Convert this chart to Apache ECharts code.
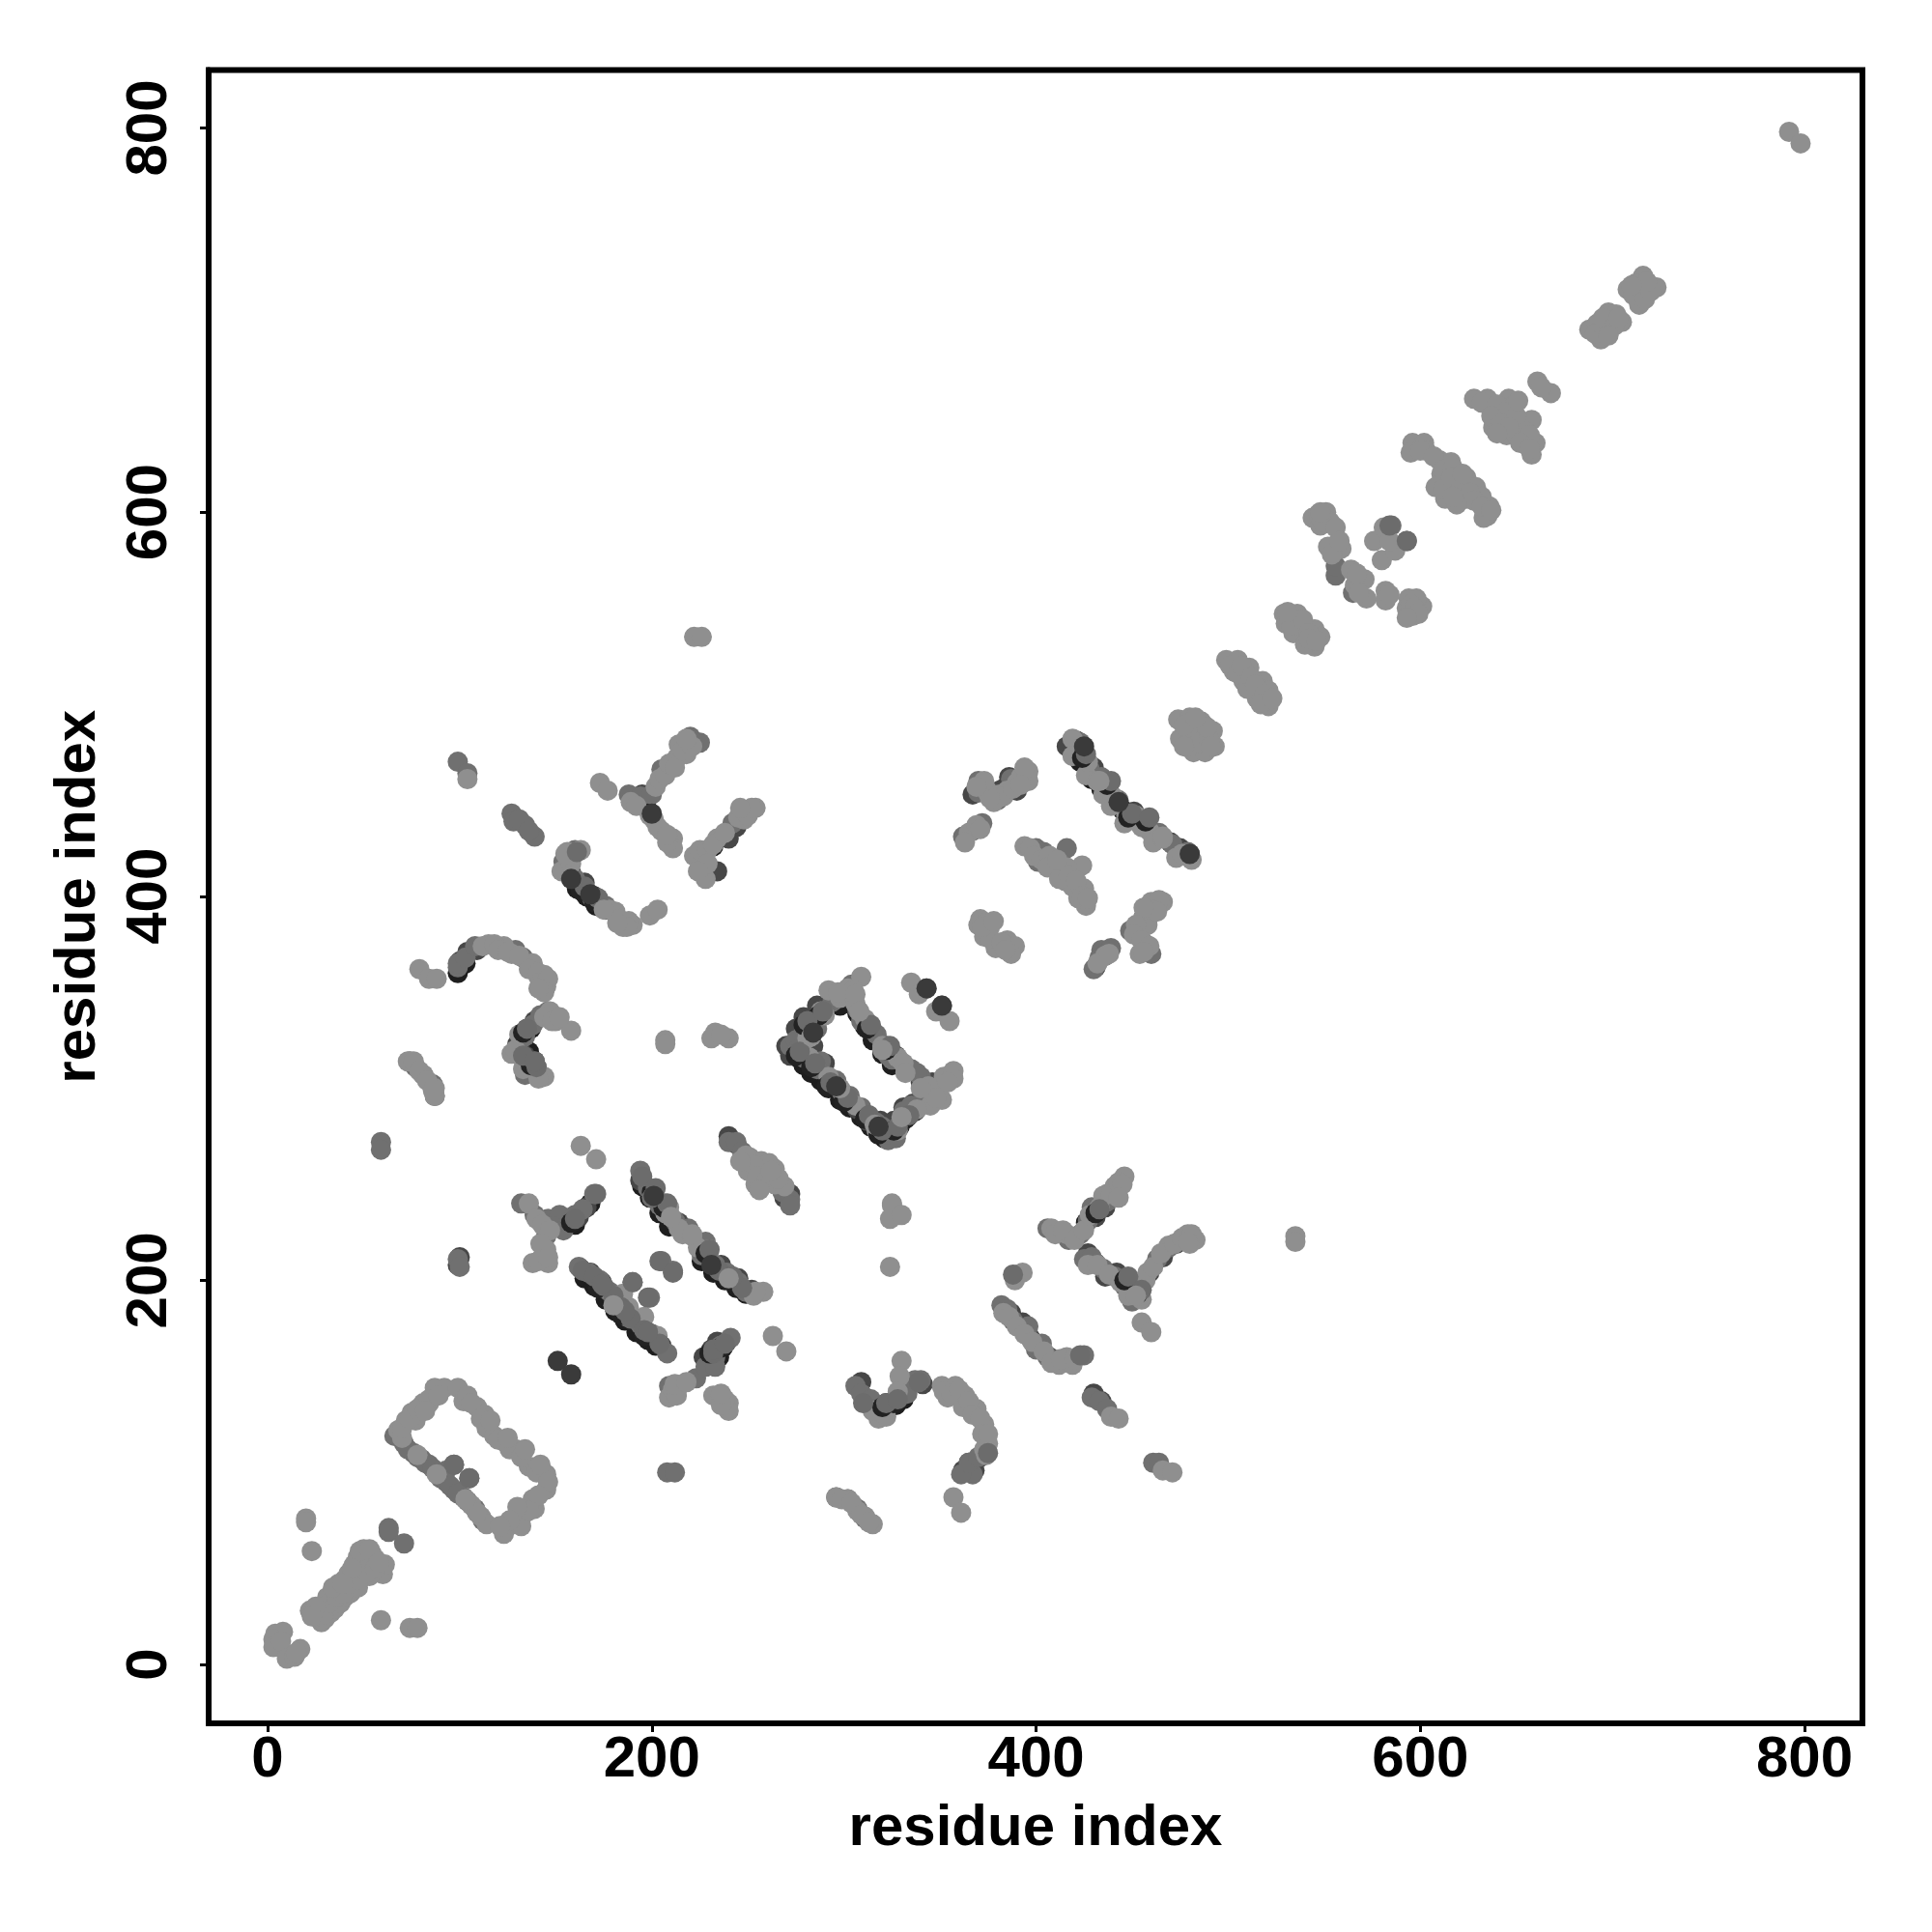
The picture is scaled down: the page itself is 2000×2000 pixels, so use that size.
<!DOCTYPE html>
<html><head><meta charset="utf-8">
<style>html,body{margin:0;padding:0;background:#fff}#c{width:2000px;height:2000px}</style>
<script src="https://cdn.jsdelivr.net/npm/echarts@6/dist/echarts.min.js"></script></head>
<body><div id="c"></div>
<script>
const tickValues = [0, 200, 400, 600, 800];
const axisTitle = "residue index";

const blackContacts = [
[273,319],[276,316],[279,312],[283,308],[276,326],[280,331],[284,336],[275,323],[288,304],[292,300],[298,294],[303,290],[309,285],[314,280],[318,276],[321,274],[325,276],[329,280],[333,285],[337,288],
[304,346],[307,339],[311,332],[315,325],[320,318],[325,312],[298,343],
[419,476],[423,470],[429,461],[434,456],[438,458],[445,445],[450,440],[456,440],[461,431],
[195,249],[199,243],[204,235],[209,228],[226,210],[232,204],[238,200],[244,196],[249,193],
[165,201],[170,197],[176,190],[181,184],[186,179],[192,173],[198,169],[202,166],
[161,404],[166,400],[171,395],[133,326],[137,331],[99,360],[103,365],[193,449],[197,447],[232,426],[432,236],[426,230],
[312,136],[322,133],[327,135],[331,138],[136,319],[141,308],[136,311],[168,240],[160,229],[156,229],[235,160],[231,156],[237,165]
];
const darkContacts = [
[272,317],[270,322],[275,331],[279,337],[286,343],[284,322],[290,313],[296,303],[301,296],[307,289],[312,283],[319,283],[326,283],[331,290],[336,292],[343,297],[309,337],[314,331],[322,322],[327,317],[333,309],[340,303],[346,303],
[416,478],[421,481],[424,475],[430,467],[436,459],[441,450],[451,444],[458,436],[470,428],[475,425],[480,422],[383,456],[386,462],[390,455],
[194,252],[198,248],[206,240],[214,230],[228,217],[236,208],[245,201],[252,195],[163,206],[168,204],[174,199],[180,191],[188,183],[195,177],[201,171],[205,166],
[100,366],[104,371],[109,372],[155,416],[158,412],[165,407],[170,400],[176,393],[135,331],[139,335],[130,323],[134,317],[139,314],[195,453],[190,451],
[240,275],[244,271],[269,243],[272,245],[227,160],[231,164],[234,168],[239,168],[150,228],[155,232],[162,233],[166,238],[309,147],[311,139],[316,135],[322,136],[331,142],[335,147],[341,146],[365,105],[371,108],[368,101],[362,101],
[448,199],[451,194],[455,198],[459,204],[436,202],[442,204],[431,209],[427,214],[466,212],[473,219],[431,233],[436,238],[442,247],[393,178],[397,170],[402,164],[407,160],[387,183],[430,141],[434,137],
[234,413],[240,430],[244,436],[367,453],[381,455],[431,363],[436,369],[455,383],[458,388],[99,208],[100,212]
];
const midContacts = [
[71,115],[76,110],[80,107],[84,104],[88,100],[93,101],[97,91],[102,87],[97,104],[105,97],[66,119],[63,71],[63,69],[71,63],[99,211],[100,207],[208,100],[212,100],
[73,112],[78,108],[82,105],[86,102],[90,97],[93,95],[95,93],[99,89],[104,85],[108,81],[112,75],
[59,272],[59,268],[74,314],[77,311],[81,307],[86,302],[87,296],[296,87],[302,86],[307,81],[311,76],
[132,240],[139,234],[146,232],[152,234],[149,228],[154,226],[160,234],[164,237],[170,245],[145,223],
[162,207],[167,204],[173,200],[178,194],[182,189],[187,181],[190,199],[199,191],[194,177],[200,172],[205,210],[211,205],[208,162],
[194,257],[198,248],[204,239],[212,231],[219,227],[228,220],[226,213],[233,208],[239,204],[245,199],[249,194],[240,272],[244,272],[247,267],[268,246],[272,242],[272,239],
[209,145],[223,149],[228,155],[233,160],[236,166],[233,155],[241,170],
[272,322],[279,329],[284,334],[279,316],[288,314],[296,304],[303,296],[309,290],[317,282],[320,280],[323,273],[327,274],[331,288],[335,291],[309,335],[317,328],[323,317],[335,310],[340,306],
[275,325],[286,331],[294,345],[304,354],[307,341],[315,330],[325,315],[338,308],[349,299],[355,306],[342,292],[332,284],[322,276],[312,286],[299,298],[286,310],[276,320],
[343,352],[351,343],[423,480],[425,474],[428,466],[434,462],[438,458],[443,450],[449,443],[456,439],[464,433],[471,427],[479,423],
[406,227],[417,221],[423,224],[427,231],[429,238],[437,241],[425,211],[429,212],[435,206],[441,202],[446,197],[450,189],[463,211],[469,217],
[382,187],[385,185],[388,179],[396,176],[403,167],[400,164],[406,160],[425,161],[429,139],[433,137],[437,133],[461,105],[464,105],[367,99],[361,99],[365,105],[370,108],
[306,145],[309,141],[314,138],[318,132],[327,138],[333,141],[337,148],[340,148],
[99,470],[104,464],[127,443],[128,439],[134,437],[139,431],[131,440],[136,434],[188,453],[194,452],[200,453],[205,466],[220,483],[225,480],[160,424],[154,418],[160,409],[163,405],[169,399],[176,395],[242,438],
[99,363],[99,365],[103,368],[108,374],[129,372],[133,368],[146,340],[142,338],[138,333],[134,327],[134,307],[140,311],
[370,460],[370,454],[380,450],[387,461],[362,431],[367,434],[372,438],[434,372],[433,368],[430,362],[439,373],[456,389],[449,382],[457,375],[460,370],
[585,593],[593,585],[556,567],[556,572],[565,558],[400,425],[404,423],[401,418],[416,425]
];
const lightContacts = [
[4,16],[8,17],[3,13],[3,9],[7,12],[10,3],[14,4],[17,8],[15,6],
[22,28],[25,25],[28,22],[30,24],[27,30],[31,29],[33,27],[35,29],[31,35],[35,33],[38,32],[37,37],[40,35],[41,39],[37,42],[43,37],[44,42],[40,44],[47,40],[46,47],[42,47],[49,45],[48,52],[45,52],[47,56],[50,60],[54,58],[56,55],[58,49],[60,47],[61,52],[53,46],
[24,27],[29,26],[32,32],[36,35],[39,37],[42,42],[45,44],[47,44],[48,48],[52,48],[52,56],[48,59],[56,50],[53,60],[58,53],[44,50],[25,30],[23,25],[34,40],[39,42],
[20,76],[20,74],[23,59],[59,23],[74,19],[78,19],
[68,122],[72,127],[75,131],[81,136],[87,144],[92,144],[70,118],[77,127],[84,136],[70,123],[74,128],[78,133],[84,138],[82,132],[89,140],
[99,144],[102,137],[109,134],[113,130],[114,123],[118,119],[123,116],[129,112],[136,103],[145,99],[145,91],[138,86],[133,78],[128,73],[123,68],[132,72],[139,81],[106,83],[111,77],[114,73],[109,79],
[104,140],[106,136],[111,128],[116,127],[120,117],[126,112],[125,118],[132,108],[134,112],[140,100],[142,104],[146,95],[141,88],[136,80],[130,82],[126,75],[121,72],
[163,270],[171,263],[263,171],[270,163],
[136,240],[138,209],[146,209],[145,216],[143,212],[140,232],[143,229],[147,226],[141,210],[142,219],[146,212],
[175,196],[182,192],[188,186],[196,181],[203,171],[185,193],
[209,238],[216,224],[221,223],[258,194],[253,192],[224,217],[207,235],[214,227],[221,224],[230,216],[254,194],
[251,264],[257,262],[264,258],[254,250],[258,255],[264,250],[269,249],[261,261],[250,257],[249,265],[253,260],[255,254],[260,252],[266,253],[262,257],[246,262],[256,247],
[214,145],[209,139],[232,140],[240,136],[240,132],[236,140],[211,143],[213,140],[212,146],[218,147],[238,138],[236,135],
[325,239],[328,234],[324,232],[324,207],[325,240],[330,234],
[292,351],[298,347],[288,340],[302,352],[309,358],[305,351],[306,344],[351,294],[346,298],[352,306],[357,309],[357,305],[345,291],[328,316],[331,313],
[281,326],[290,338],[297,350],[306,349],[311,336],[320,322],[332,308],[344,301],[354,303],[348,295],[338,289],[328,278],[317,278],[306,291],[292,306],[282,316],
[335,355],[339,349],[348,340],[355,335],
[318,128],[330,158],[329,150],[328,142],[315,132],[322,129],
[351,145],[358,145],[354,139],[363,140],[362,134],[369,133],[373,125],[375,115],[374,109],[357,87],[361,79],[296,87],[302,86],[307,80],[311,77],[315,73],[466,101],[471,100],
[352,142],[356,141],[360,143],[365,137],[367,130],[371,128],[372,120],[373,112],[375,120],[299,86],[304,84],[309,78],[313,74],
[416,224],[437,245],[441,249],[446,254],[408,227],[455,190],[453,196],[458,204],[469,218],[479,224],[483,221],[480,219],[455,178],[460,173],[390,203],[393,204],[389,200],
[410,224],[414,226],[420,221],[425,226],[428,234],[433,238],[435,244],[439,245],[443,251],[445,250],
[427,208],[432,208],[438,203],[444,199],[448,192],[453,192],[457,200],[461,207],[465,214],[472,219],[476,222],[481,224],[479,220],
[412,156],[416,160],[419,156],[439,129],[443,128],[383,183],[386,181],[390,176],[394,172],[398,168],[404,163],[408,157],[413,159],[420,159],
[535,223],[535,220],[222,535],[226,535],
[104,461],[173,459],[177,455],[189,449],[199,442],[201,440],[205,434],[211,430],[211,425],[202,457],[213,472],[218,474],[214,479],[222,421],[228,409],[226,416],[225,424],[234,430],[249,444],[254,446],[248,440],[156,423],[153,413],[181,392],[185,384],[190,385],[199,390],[203,393],
[229,424],[229,417],[224,413],[232,427],[238,433],[245,441],[250,442],[252,446],[246,446],[204,461],[207,463],[209,469],[212,467],[216,476],[221,478],[218,482],[192,447],[203,436],[208,428],[208,432],
[157,419],[158,417],[157,421],[163,424],[155,422],[172,397],[178,393],[183,388],[188,387],[187,384],[182,386],[165,403],
[115,375],[123,374],[127,370],[138,365],[144,359],[145,353],[141,358],[79,362],[84,357],[88,357],[112,374],[118,375],[120,372],[125,371],[131,369],[136,362],[141,360],[142,355],[146,357],[144,350],[141,352],
[147,340],[150,335],[158,330],[127,318],[133,315],[144,306],[73,314],[81,307],[87,296],[87,300],[144,337],[148,335],[152,337],[129,320],[131,328],[137,312],[141,305],[133,310],[76,314],[79,309],[83,304],[86,299],
[207,325],[207,323],[233,329],[231,326],[240,326],[236,328],
[381,453],[385,455],[390,459],[396,465],[396,460],[374,456],[375,454],[378,449],[383,452],[388,456],[392,462],[394,467],[392,458],[376,451],[373,460],[369,457],[365,433],[369,437],[371,435],[363,428],
[419,482],[419,473],[426,463],[435,453],[439,447],[446,438],[452,442],[459,434],[461,428],[473,420],[481,419],[427,470],[432,460],[440,452],[447,442],[455,436],[466,430],[476,422],
[394,426],[410,417],[424,416],[415,408],[419,405],[425,404],[426,395],[422,399],[416,415],[397,425],[399,421],[403,419],[407,421],[406,415],[412,409],[417,411],[421,408],[424,400],[427,399],[411,419],
[466,397],[460,397],[456,389],[458,385],[454,370],[464,398],[460,393],[463,392],[456,394],[452,385],[451,380],[455,377],[459,374],[456,371],[436,369],[432,365],[438,370],
[371,388],[370,385],[376,384],[373,379],[379,373],[385,377],[389,374],[387,370],[374,386],[376,378],[382,376],[384,372],[372,384],[378,387],
[474,492],[480,493],[486,491],[475,482],[482,475],[492,486],[493,478],[488,475],[483,489],[479,486],[477,489],[479,478],[485,480],[490,482],[489,488],[477,478],[491,478],[483,493],
[499,523],[505,523],[503,517],[511,519],[508,512],[518,512],[521,507],[521,499],[515,503],[510,508],[501,520],[505,516],[507,520],[512,514],[514,510],[519,505],[517,500],[523,503],
[529,547],[536,547],[530,542],[534,537],[545,539],[545,530],[540,531],[548,535],[536,541],[532,545],[533,541],[539,544],[542,537],[542,534],[531,548],[546,533],
[544,597],[551,600],[553,595],[548,593],[556,583],[552,582],[559,581],[547,599],[549,595],[556,592],[554,578],[558,585],[548,600],
[564,570],[571,565],[572,555],[582,559],[582,554],[594,555],[596,546],[601,551],[593,550],[598,555],[566,562],[567,568],[568,558],[584,557],[595,552],[597,550],[599,547],[593,545],
[576,585],[581,592],[580,575],[587,580],[584,585],
[596,636],[602,636],[595,631],[603,632],[610,627],[616,626],[608,613],[613,607],[624,618],[629,613],[636,603],[635,598],[633,597],[619,620],[611,620],[624,607],[632,608],[615,615],
[600,632],[607,629],[612,622],[617,623],[612,612],[616,618],[621,612],[626,610],[622,620],[628,606],[632,603],[637,601],[619,604],[617,608],
[628,659],[635,659],[646,659],[640,651],[649,656],[638,644],[645,640],[654,646],[658,648],[660,636],[658,630],[650,640],[648,646],[632,657],[640,656],[644,652],[637,650],[642,646],[650,650],[655,642],[657,640],[646,644],[652,636],[657,633],[640,641],[651,658],
[661,668],[668,662],[663,665],
[688,695],[698,704],[702,703],[705,699],[694,690],[698,697],[692,698],[691,693],[695,697],[700,700],[695,701],[701,697],[698,692],[703,701],
[708,716],[716,723],[723,717],[714,708],[716,716],[711,713],[712,719],[717,711],[720,715],[718,720],[710,718],
[792,798],[798,792]
];
const overBlackContacts = [
[275,317],[279,333],[283,311],[291,301],[300,293],[311,284],[318,276],[326,278],[332,284],[312,331],[322,320],[287,338],
[424,472],[437,458],[448,441],[457,439],[172,196],[184,182],[196,171],[200,246],[206,238],[228,214],[240,200],[163,403],[170,397],
[230,162],[236,165],[320,134],[326,136],[446,200],[453,193],[431,235],[158,230],[133,329],[137,312]
];
const topMidContacts = [
[423,161],[388,203],[584,593],[593,585],[161,423],[204,210],[211,204],[97,104],[105,97],[198,191],[190,199],[232,162],[171,245],[140,311],[133,317],[375,110],[310,136],[339,147],[164,205],[170,202],[175,197],[180,192],[184,186],[189,180],[196,174],[204,167],[195,254],[200,243],[235,205],[242,202],[247,196],
[277,319],[281,335],[285,313],[293,303],[302,295],[313,286],[320,278],[328,280],[334,286],[314,333],[324,322],[289,340],
[426,474],[439,460],[450,443],[459,441],[174,198],[186,184],[198,173],[202,248],[208,240],[230,216],[242,202],[165,405],[172,399],
[232,164],[238,167],[322,136],[328,138],[448,202],[455,195],[433,237],[160,232],[135,331],[139,314]
];
const topLightContacts = [
[283,327],[298,300],[316,281],[330,285],[308,340],[320,320],[340,300],[78,109],[88,99],[103,86],[175,393],[210,233],[240,201],[180,187],[433,460],[466,431],[236,141],[443,243],[452,192]
];
const topDarkContacts = [
[151,158],[158,151],[343,352],[351,343],[284,329],[318,280],[425,478],[443,449],[480,422],[200,443],[296,301],[158,409],[168,401],[201,244],[231,208]
];

const chart = echarts.init(document.getElementById('c'));
const scatter = (data, color) => ({type:'scatter', data, symbol:'circle', symbolSize:21, itemStyle:{color, opacity:1}, silent:true, animation:false, large:false});
const axisCommon = {
  type:'value', min:-30.7, max:830.2, name:axisTitle, nameLocation:'middle',
  nameTextStyle:{fontFamily:'Liberation Sans', fontWeight:'bold', fontSize:60, color:'#000'},
  splitLine:{show:false},
  axisLine:{show:true, onZero:false, lineStyle:{color:'#000', width:6}},
  axisTick:{show:true, length:9, customValues:tickValues, lineStyle:{color:'#000', width:3}},
  axisLabel:{customValues:tickValues, fontFamily:'Liberation Sans', fontWeight:'bold', fontSize:60, color:'#000', hideOverlap:false, showMinLabel:true, showMaxLabel:true}
};
chart.setOption({
  backgroundColor:'#fff', animation:false,
  grid:{left:216, right:72, top:72.5, bottom:216, show:true, borderColor:'#000', borderWidth:6, backgroundColor:'#fff'},
  xAxis:{...axisCommon, nameGap:79, axisLabel:{...axisCommon.axisLabel, margin:8}},
  yAxis:{...axisCommon, nameGap:105, axisLabel:{...axisCommon.axisLabel, rotate:90, margin:31}},
  series:[
    scatter(blackContacts,'#1e1e1e'),
    scatter(darkContacts,'#474747'),
    scatter(midContacts,'#707070'),
    scatter(lightContacts,'#8f8f8f'),
    scatter(overBlackContacts,'#222222'),
    scatter(topMidContacts,'#6c6c6c'),
    scatter(topLightContacts,'#8f8f8f'),
    scatter(topDarkContacts,'#3a3a3a')
  ]
});
</script></body></html>
